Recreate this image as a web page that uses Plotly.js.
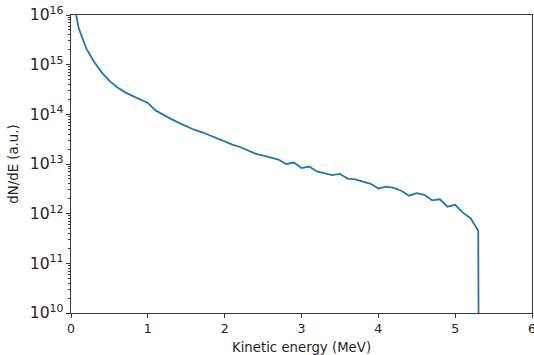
<!DOCTYPE html>
<html>
<head>
<meta charset="utf-8">
<script src="https://cdn.plot.ly/plotly-3.0.1.min.js"></script>
<style>html,body{margin:0;padding:0;background:#fff;}#chart{width:534px;height:355px;}</style>
</head>
<body>
<div id="chart"></div>
<script>
// Kinetic energy (MeV)
const energy = [0.0,0.1,0.2,0.3,0.4,0.5,0.6,0.7,0.8,0.9,
  1.0,1.1,1.2,1.3,1.4,1.5,1.6,1.7,1.8,1.9,
  2.0,2.1,2.2,2.3,2.4,2.5,2.6,2.7,2.8,2.9,
  3.0,3.1,3.2,3.3,3.4,3.5,3.6,3.7,3.8,3.9,
  4.0,4.1,4.2,4.3,4.4,4.5,4.6,4.7,4.8,4.9,
  5.0,5.1,5.2,5.3,5.4];
// dN/dE (a.u.)
const dNdE = [3.7e16,5.4e15,2.1e15,1.15e15,7.0e14,4.7e14,3.5e14,2.8e14,2.35e14,2.0e14,
  1.7e14,1.2e14,9.7e13,8.1e13,6.8e13,5.7e13,4.9e13,4.4e13,3.8e13,3.2e13,
  2.8e13,2.45e13,2.2e13,1.86e13,1.62e13,1.48e13,1.35e13,1.23e13,1.0e13,1.07e13,
  8.3e12,8.9e12,7.1e12,6.5e12,6.0e12,6.3e12,5.1e12,4.9e12,4.5e12,4.0e12,
  3.2e12,3.5e12,3.3e12,2.9e12,2.3e12,2.6e12,2.4e12,1.86e12,1.95e12,1.38e12,
  1.51e12,1.05e12,8.1e11,4.6e11,0];
const xTitle = 'Kinetic energy (MeV)';
const yTitle = 'dN/dE (a.u.)';

// zero counts are clipped far below the axis, like a log plot does
const yPlot = dNdE.map(v => v > 0 ? v : 1e-30);

const tickFont = {family: 'DejaVu Sans', size: 12.5, color: '#262626'};
const titleFont = {family: 'DejaVu Sans', size: 13.3, color: '#262626'};
const axisCommon = {
  showline: true, mirror: true, linecolor: '#3a3a3a', linewidth: 1,
  ticks: 'outside', ticklen: 4, tickwidth: 1, tickcolor: '#3a3a3a',
  showgrid: false, zeroline: false, tickfont: tickFont,
  ticklabeloverflow: 'allow'
};

Plotly.newPlot('chart', [{
  x: energy, y: yPlot, type: 'scatter', mode: 'lines',
  line: {color: '#1f77b4', width: 1.8}, hoverinfo: 'skip'
}], {
  width: 534, height: 355,
  margin: {l: 71, r: 2, t: 15, b: 42},
  paper_bgcolor: '#fff', plot_bgcolor: '#fff',
  showlegend: false,
  font: tickFont,
  xaxis: Object.assign({}, axisCommon, {
    range: [0, 6], dtick: 1, tick0: 0,
    title: {text: xTitle, font: titleFont, standoff: 8}
  }),
  yaxis: Object.assign({}, axisCommon, {
    type: 'log', range: [10, 16], dtick: 1, exponentformat: 'power',
    minor: {ticks: 'outside', ticklen: 2, tickcolor: '#3a3a3a', dtick: 'D1', showgrid: false},
    title: {text: yTitle, font: titleFont, standoff: 8}
  })
}, {staticPlot: true});
</script>
</body>
</html>
